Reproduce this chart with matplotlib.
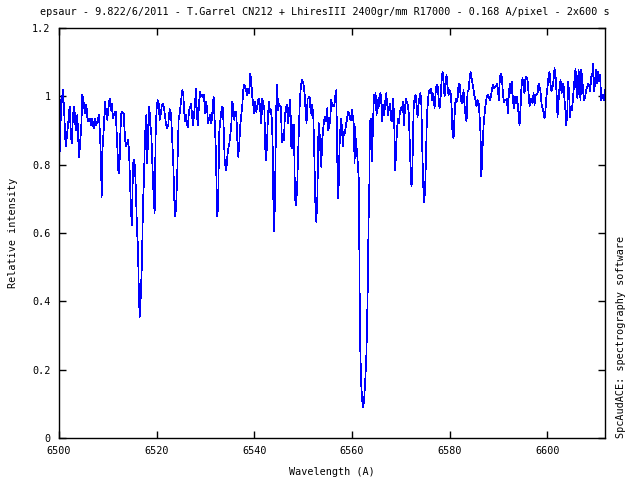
import matplotlib
matplotlib.use("Agg")
import matplotlib.pyplot as plt
import numpy as np

# spectrum (wavelength in A, relative intensity)
wl_a = [6500.00, 6500.14, 6500.27, 6500.41, 6500.55, 6500.82, 6501.09, 6501.36, 6501.57, 6501.91,
        6502.18, 6502.39, 6502.59, 6502.87, 6503.14, 6503.41, 6503.75, 6504.09, 6504.30, 6504.57,
        6504.78, 6504.98, 6505.32, 6505.60, 6505.87, 6506.28, 6506.55, 6506.82, 6507.10, 6507.37,
        6507.64, 6507.92, 6508.19, 6508.39, 6508.60, 6508.73, 6508.94, 6509.21, 6509.42, 6509.62,
        6509.89, 6510.10, 6510.37, 6510.58, 6510.78, 6511.05, 6511.33, 6511.60, 6511.87, 6512.15,
        6512.35, 6512.56, 6512.76, 6512.96, 6513.24, 6513.44, 6513.65, 6513.92, 6514.19, 6514.40,
        6514.60, 6514.81, 6514.94, 6515.15, 6515.35, 6515.56, 6515.76, 6515.97, 6516.17, 6516.31,
        6516.51, 6516.72, 6516.99, 6517.20, 6517.40, 6517.60, 6517.88, 6518.08, 6518.29, 6518.49,
        6518.70, 6518.90, 6519.11, 6519.38, 6519.58, 6519.79, 6519.99, 6520.20, 6520.40, 6520.61,
        6520.81, 6521.02, 6521.29, 6521.56, 6521.84, 6522.11, 6522.38]
int_a = [1.043, 0.838, 0.989, 0.931, 0.984, 1.020, 0.945, 0.853, 0.877, 0.926,
         0.970, 0.901, 0.862, 0.945, 0.970, 0.901, 0.945, 0.823, 0.857, 0.916,
         1.004, 0.989, 0.950, 0.975, 0.926, 0.935, 0.916, 0.935, 0.906, 0.935,
         0.916, 0.931, 0.945, 0.887, 0.814, 0.706, 0.853, 0.916, 0.984, 0.955,
         0.931, 0.965, 0.994, 0.960, 0.979, 0.935, 0.950, 0.955, 0.877, 0.784,
         0.775, 0.892, 0.950, 0.955, 0.950, 0.897, 0.853, 0.862, 0.872, 0.814,
         0.726, 0.648, 0.623, 0.804, 0.814, 0.794, 0.716, 0.609, 0.560, 0.453,
         0.355, 0.409, 0.516, 0.687, 0.755, 0.882, 0.945, 0.804, 0.916, 0.970,
         0.916, 0.892, 0.804, 0.706, 0.657, 0.887, 0.965, 0.989, 0.979, 0.931,
         0.945, 0.970, 0.979, 0.960, 0.926, 0.906, 0.916]

wl_b = [6522.52, 6522.72, 6522.93, 6523.13, 6523.41, 6523.61, 6523.82, 6524.02, 6524.23, 6524.36,
        6524.50, 6524.70, 6524.91, 6525.11, 6525.25, 6525.45, 6525.66, 6525.86, 6526.00, 6526.21,
        6526.41, 6526.61, 6526.82, 6527.02, 6527.23, 6527.43, 6527.64, 6527.84, 6528.05, 6528.25,
        6528.46, 6528.66, 6528.87, 6529.07, 6529.28, 6529.48, 6529.69, 6529.89, 6530.09, 6530.30,
        6530.50, 6530.71, 6530.91, 6531.12, 6531.32, 6531.53, 6531.66, 6531.87, 6532.07, 6532.28,
        6532.41, 6532.62, 6532.76, 6532.96, 6533.17, 6533.37, 6533.57, 6533.78, 6533.92, 6534.12,
        6534.26, 6534.46, 6534.67, 6534.87, 6535.08, 6535.28, 6535.49, 6535.69, 6535.89, 6536.10,
        6536.30, 6536.51, 6536.71, 6536.92, 6537.12, 6537.33, 6537.53, 6537.74, 6537.94, 6538.15,
        6538.35, 6538.56, 6538.76, 6538.97, 6539.17, 6539.37, 6539.58, 6539.78, 6539.99, 6540.19,
        6540.40, 6540.60, 6540.81, 6541.01, 6541.22, 6541.42, 6541.63, 6541.83, 6542.04, 6542.24,
        6542.38, 6542.58, 6542.79, 6542.99, 6543.20, 6543.40, 6543.61, 6543.81, 6543.95, 6544.15,
        6544.29, 6544.42, 6544.56, 6544.70, 6544.83]
int_b = [0.945, 0.962, 0.950, 0.892, 0.799, 0.697, 0.648, 0.692, 0.784, 0.862,
         0.931, 0.950, 0.975, 0.999, 1.018, 1.004, 0.950, 0.926, 0.945, 0.916,
         0.911, 0.960, 0.965, 0.979, 0.945, 0.916, 0.945, 0.975, 1.023, 0.940,
         0.916, 0.979, 1.014, 0.999, 1.004, 0.999, 1.004, 0.950, 0.984, 0.970,
         0.921, 0.935, 0.945, 0.921, 0.935, 0.979, 0.999, 0.931, 0.862, 0.726,
         0.648, 0.692, 0.882, 0.921, 0.945, 0.970, 0.965, 0.882, 0.814, 0.789,
         0.784, 0.823, 0.848, 0.862, 0.887, 0.916, 0.984, 0.970, 0.931, 0.955,
         0.955, 0.872, 0.823, 0.862, 0.916, 0.945, 0.975, 1.018, 1.033, 1.028,
         1.014, 1.004, 1.023, 1.009, 1.067, 1.043, 0.999, 0.975, 0.950, 0.984,
         0.955, 0.970, 0.989, 0.994, 0.955, 0.921, 0.994, 0.979, 0.965, 0.848,
         0.814, 0.853, 0.945, 0.984, 0.955, 0.960, 0.926, 0.823, 0.604, 0.657,
         0.770, 0.911, 1.014, 1.033, 0.960]

wl_c = [6545.03, 6545.23, 6545.44, 6545.64, 6545.85, 6546.05, 6546.26, 6546.46, 6546.67, 6546.87,
        6547.08, 6547.28, 6547.42, 6547.55, 6547.69, 6547.83, 6547.96, 6548.10, 6548.31, 6548.51,
        6548.65, 6548.78, 6548.92, 6549.12, 6549.33, 6549.53, 6549.74, 6549.94, 6550.15, 6550.35,
        6550.49, 6550.69, 6550.90, 6551.10, 6551.31, 6551.51, 6551.72, 6551.85, 6552.06, 6552.26,
        6552.47, 6552.67, 6552.88, 6553.01, 6553.15, 6553.29, 6553.49, 6553.70, 6553.90, 6554.11,
        6554.31, 6554.51, 6554.72, 6554.92, 6555.13, 6555.33, 6555.54, 6555.74, 6555.95, 6556.15,
        6556.36, 6556.56, 6556.77, 6556.90, 6557.04, 6557.18, 6557.31, 6557.45, 6557.59, 6557.72,
        6557.93, 6558.13, 6558.34, 6558.54, 6558.75, 6558.95, 6559.16, 6559.36, 6559.56, 6559.77,
        6559.97, 6560.18, 6560.38, 6560.52, 6560.66, 6560.79, 6561.00, 6561.20, 6561.41, 6561.47,
        6561.55, 6561.68, 6561.88, 6562.09, 6562.29, 6562.50, 6562.70, 6562.91, 6563.05, 6563.19,
        6563.40, 6563.52, 6563.60, 6563.66, 6563.86, 6564.07, 6564.27, 6564.48, 6564.68, 6564.82,
        6565.02, 6565.23, 6565.43, 6565.64, 6565.84, 6566.05, 6566.18, 6566.39, 6566.59, 6566.80,
        6567.00, 6567.21, 6567.41]
int_c = [0.979, 0.970, 0.970, 0.867, 0.877, 0.872, 0.945, 0.965, 0.975, 0.921,
         0.950, 0.989, 0.955, 0.853, 0.848, 0.916, 0.911, 0.916, 0.706, 0.682,
         0.706, 0.736, 0.814, 0.906, 0.994, 1.028, 1.048, 1.043, 1.028, 0.999,
         0.955, 0.921, 0.994, 0.994, 0.999, 0.960, 0.945, 0.975, 0.945, 0.843,
         0.697, 0.633, 0.687, 0.799, 0.921, 0.916, 0.848, 0.794, 0.872, 0.906,
         0.931, 0.940, 0.926, 0.965, 0.901, 0.911, 0.931, 0.989, 0.970, 0.975,
         0.970, 0.999, 1.018, 0.887, 0.765, 0.701, 0.760, 0.857, 0.897, 0.935,
         0.911, 0.853, 0.897, 0.892, 0.916, 0.931, 0.955, 0.950, 0.935, 0.931,
         0.960, 0.940, 0.916, 0.804, 0.911, 0.857, 0.843, 0.799, 0.750, 0.600,
         0.439, 0.266, 0.158, 0.111, 0.089, 0.117, 0.167, 0.228, 0.310, 0.413,
         0.644, 0.697, 0.823, 0.926, 0.935, 0.809, 0.906, 1.004, 0.984, 1.009,
         0.945, 0.989, 0.965, 1.004, 1.009, 0.970, 0.926, 0.975, 0.945, 0.984,
         1.009, 0.975, 0.945]

wl_d = [6567.55, 6567.75, 6567.96, 6568.16, 6568.37, 6568.57, 6568.71, 6568.85, 6568.98, 6569.19,
        6569.39, 6569.60, 6569.80, 6570.01, 6570.21, 6570.42, 6570.62, 6570.83, 6571.03, 6571.23,
        6571.44, 6571.64, 6571.85, 6572.05, 6572.19, 6572.33, 6572.46, 6572.60, 6572.80, 6573.01,
        6573.21, 6573.42, 6573.55, 6573.76, 6573.96, 6574.17, 6574.37, 6574.58, 6574.78, 6574.99,
        6575.19, 6575.33, 6575.53, 6575.74, 6575.94, 6576.15, 6576.35, 6576.56, 6576.76, 6576.90,
        6577.10, 6577.31, 6577.51, 6577.72, 6577.92, 6578.13, 6578.33, 6578.54, 6578.74, 6578.95,
        6579.15, 6579.35, 6579.56, 6579.76, 6579.97, 6580.17, 6580.38, 6580.58, 6580.79, 6580.99,
        6581.20, 6581.40, 6581.61, 6581.81, 6582.02, 6582.22, 6582.43, 6582.63, 6582.83, 6583.04,
        6583.24, 6583.45, 6583.65, 6583.86, 6584.06, 6584.27, 6584.47, 6584.68, 6584.88, 6585.09,
        6585.29, 6585.50, 6585.70, 6585.91, 6586.11, 6586.32, 6586.45, 6586.59, 6586.79, 6587.00,
        6587.20, 6587.41, 6587.61, 6587.82, 6588.02, 6588.23, 6588.43, 6588.64, 6588.84, 6589.05,
        6589.25, 6589.45, 6589.66, 6589.86]
int_d = [0.965, 0.979, 0.935, 0.926, 0.994, 0.955, 0.882, 0.784, 0.828, 0.897,
         0.935, 0.921, 0.955, 0.965, 0.960, 0.984, 0.916, 0.960, 0.994, 0.984,
         0.975, 0.945, 0.848, 0.760, 0.736, 0.779, 0.853, 0.960, 0.994, 1.004,
         0.975, 0.940, 0.970, 0.989, 1.009, 0.994, 0.853, 0.740, 0.689, 0.736,
         0.848, 0.940, 0.984, 1.014, 1.018, 1.023, 0.989, 1.009, 0.989, 0.965,
         1.009, 1.033, 1.033, 0.999, 0.965, 0.994, 1.043, 1.072, 1.043, 0.999,
         1.043, 1.062, 1.028, 1.004, 1.018, 1.014, 0.975, 0.887, 0.877, 0.940,
         0.994, 0.984, 0.994, 1.033, 1.038, 1.004, 0.979, 0.984, 1.018, 0.975,
         0.945, 0.926, 1.014, 1.018, 1.048, 1.072, 1.053, 1.038, 1.018, 0.999,
         0.989, 0.970, 0.989, 0.984, 0.945, 0.887, 0.765, 0.794, 0.872, 0.931,
         0.955, 0.984, 0.999, 1.004, 0.999, 0.989, 0.999, 1.018, 1.033, 1.023,
         1.028, 1.028, 1.038, 1.023]

wl_e = [6590.07, 6590.27, 6590.48, 6590.68, 6590.89, 6591.09, 6591.30, 6591.50, 6591.71, 6591.91,
        6592.12, 6592.32, 6592.53, 6592.73, 6592.94, 6593.14, 6593.35, 6593.55, 6593.75, 6593.96,
        6594.16, 6594.30, 6594.51, 6594.71, 6594.91, 6595.12, 6595.32, 6595.53, 6595.73, 6595.94,
        6596.14, 6596.35, 6596.55, 6596.76, 6596.96, 6597.17, 6597.37, 6597.58, 6597.78, 6597.99,
        6598.19, 6598.40, 6598.60, 6598.80, 6599.01, 6599.21, 6599.42, 6599.62, 6599.83, 6600.03,
        6600.24, 6600.44, 6600.65, 6600.85, 6601.06, 6601.26, 6601.47, 6601.67, 6601.88, 6602.08,
        6602.29, 6602.49, 6602.69, 6602.90, 6603.10, 6603.31, 6603.51, 6603.72, 6603.85, 6604.06,
        6604.26, 6604.47, 6604.60, 6604.81, 6605.01, 6605.22, 6605.42, 6605.63, 6605.76, 6605.97,
        6606.17, 6606.38, 6606.58, 6606.79, 6606.92, 6607.13, 6607.33, 6607.54, 6607.74, 6607.95,
        6608.15, 6608.36, 6608.56, 6608.77, 6608.97, 6609.18, 6609.38, 6609.58, 6609.79, 6609.99,
        6610.20, 6610.40, 6610.61, 6610.81, 6611.02, 6611.22, 6611.43, 6611.63, 6611.77]
int_e = [0.989, 1.053, 1.067, 1.057, 1.009, 0.984, 0.989, 0.989, 0.994, 0.950,
         1.009, 1.038, 1.009, 1.043, 0.989, 0.965, 0.999, 0.979, 0.999, 0.975,
         0.935, 0.916, 0.965, 1.033, 1.053, 1.028, 1.009, 1.057, 1.057, 1.048,
         1.009, 0.970, 0.989, 0.994, 0.979, 1.009, 0.975, 1.004, 1.004, 1.009,
         1.038, 1.028, 1.014, 0.979, 0.965, 0.955, 0.935, 0.960, 1.004, 1.028,
         1.057, 1.072, 1.033, 1.014, 1.028, 1.048, 1.082, 1.062, 1.009, 0.940,
         0.984, 1.028, 1.048, 1.009, 1.038, 1.033, 0.989, 0.955, 0.916, 0.945,
         1.043, 1.009, 0.940, 0.970, 0.960, 0.989, 1.028, 1.057, 1.082, 1.014,
         0.994, 1.077, 1.038, 0.989, 1.077, 1.053, 1.014, 0.989, 0.999, 1.018,
         1.028, 1.038, 1.033, 1.014, 1.057, 1.062, 1.096, 1.014, 1.048, 1.077,
         1.038, 1.072, 1.043, 1.062, 0.989, 0.999, 1.004, 0.989, 1.018]

wavelength = np.array(wl_a + wl_b + wl_c + wl_d + wl_e)
intensity = np.array(int_a + int_b + int_c + int_d + int_e)

title = "epsaur - 9.822/6/2011 - T.Garrel CN212 + LhiresIII 2400gr/mm R17000 - 0.168 A/pixel - 2x600 s"
xticks = [6500, 6520, 6540, 6560, 6580, 6600]
yticks = [0, 0.2, 0.4, 0.6, 0.8, 1, 1.2]
ytick_labels = ["0", "0.2", "0.4", "0.6", "0.8", "1", "1.2"]

plt.rcParams['font.family'] = ['DejaVu Sans Mono']
fs = 7.3

fig = plt.figure(figsize=(6.4, 4.8), dpi=100)
ax = fig.add_axes([59 / 640, 42 / 480, 546 / 640, 410 / 480])
ax.plot(wavelength, intensity, color='#0000ff', lw=0.5, antialiased=False)

ax.set_xlim(6500, 6611.8)
ax.set_ylim(0, 1.2)
ax.set_xticks(xticks)
ax.set_yticks(yticks)
ax.set_yticklabels(ytick_labels)
ax.tick_params(direction='in', length=5, width=1, top=True, right=True,
               labelsize=fs, colors='black', pad=6)
for s in ax.spines.values():
    s.set_linewidth(1.0)
    s.set_color('black')

ax.set_xlabel("Wavelength (A)", fontsize=fs, labelpad=8)
ax.set_ylabel("Relative intensity", fontsize=fs, labelpad=10)
fig.text(325 / 640, 1 - 12 / 480, title, fontsize=fs, ha='center', va='center')
fig.text(621 / 640, 42 / 480, "SpcAudACE: spectrography software", fontsize=fs,
         rotation=90, ha='center', va='bottom')

fig.savefig("out.png", dpi=100)
